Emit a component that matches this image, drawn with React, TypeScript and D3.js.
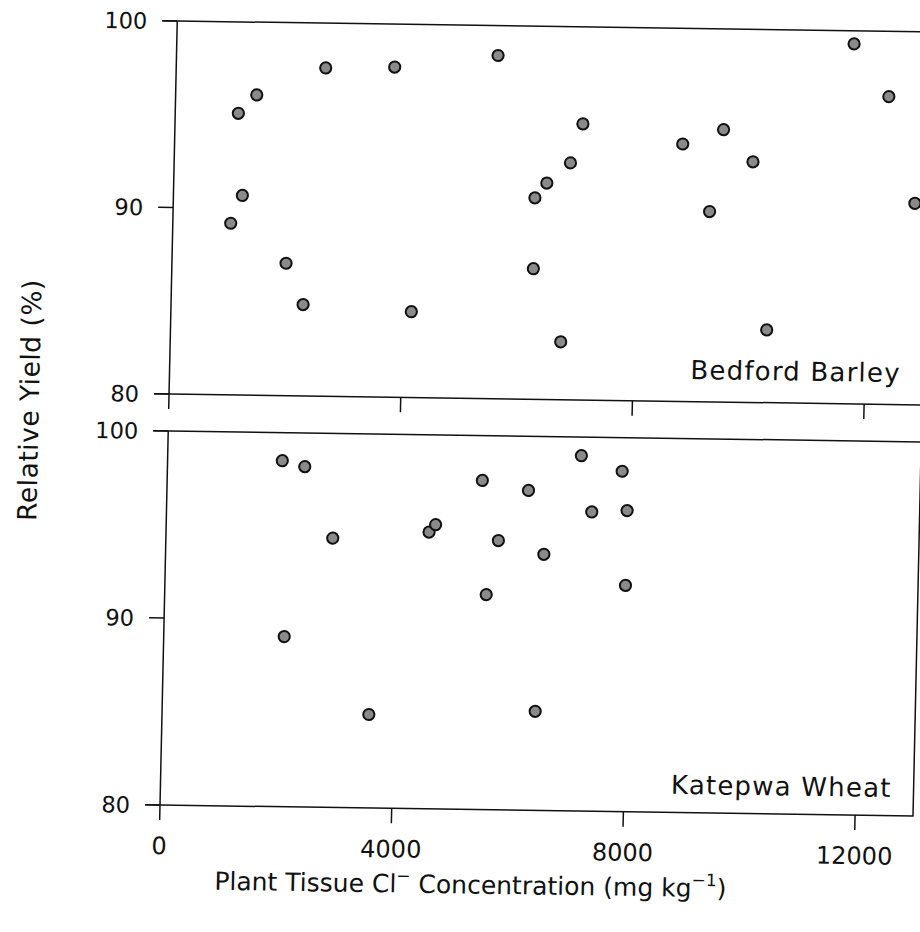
import React from 'react';
import * as d3 from 'd3';

const xTicks = [0, 4000, 8000, 12000];
const yTickLabels = [80, 90, 100];

const barleyX = [1000, 1090, 1190, 1400, 1970, 2280, 2580, 3770, 4150, 5550, 6240, 6240, 6440, 6740, 6840, 7040, 8770, 9260, 9470, 9990, 10290, 11690, 12310, 12800];
const barleyY = [89.2, 95.1, 90.7, 96.1, 87.1, 84.9, 97.6, 97.7, 84.6, 98.4, 90.8, 87.0, 91.6, 83.1, 92.7, 94.8, 93.8, 90.2, 94.6, 92.9, 83.9, 99.3, 96.5, 90.8];

const wheatX = [1980, 2370, 2880, 2080, 3570, 4540, 4650, 5440, 6240, 5740, 5550, 6530, 6440, 7140, 7850, 7340, 7950, 7950];
const wheatY = [98.5, 98.2, 94.4, 89.1, 85.0, 94.8, 95.2, 97.6, 97.1, 94.4, 91.5, 93.7, 85.3, 99.0, 98.2, 96.0, 96.1, 92.1];

const FONT = '"DejaVu Sans", sans-serif';

export default function App() {
  const W = 920, H = 932;
  const B = 0.0145, C = -0.022;
  const x = d3.scaleLinear().domain([0, 13000]).range([0, 753]);
  const yTop = d3.scaleLinear().domain([80, 100]).range([-411, -784]);
  const yBot = d3.scaleLinear().domain([80, 100]).range([0, -374]);
  const panels = [
    { name: 'Bedford Barley', xs: barleyX, ys: barleyY, y: yTop, labelOff: 22.6 },
    { name: 'Katepwa Wheat', xs: wheatX, ys: wheatY, y: yBot, labelOff: 18.6 },
  ];
  const stroke = '#111';
  const sw = 1.5;
  const right = x(13000);
  return (
    <svg width={W} height={H} style={{ position: 'absolute', left: 0, top: 0, background: '#fff' }}>
      <rect width={W} height={H} fill="#fff" />
      <g transform={`matrix(1,${B},${C},1,160,805)`}>
        {panels.map((p, pi) => {
          const yb = p.y(80);
          const yt = p.y(100);
          return (
            <g key={pi}>
              <path d={`M${-15},${yt}H${right}V${yb}H${-15}`} fill="none" stroke={stroke} strokeWidth={sw} />
              <path d={`M0,${yt}V${yb + 15}`} fill="none" stroke={stroke} strokeWidth={sw} />
              {yTickLabels.map((t) => (
                <g key={t}>
                  <path d={`M-15,${p.y(t)}H0`} stroke={stroke} strokeWidth={sw} />
                  <text x={-30} y={p.y(t)} dy="0.36em" textAnchor="end" fontFamily={FONT} fontSize={22.5} fill="#111">{t}</text>
                </g>
              ))}
              {xTicks.filter((t) => t > 0).map((t) => (
                <path key={t} d={`M${x(t)},${yb}V${yb + 15}`} stroke={stroke} strokeWidth={sw} />
              ))}
              {p.xs.map((xv, i) => (
                <circle key={i} cx={x(xv)} cy={p.y(p.ys[i])} r={5.6} fill="#8a8a8a" stroke="#111" strokeWidth={2} />
              ))}
              <text x={731} y={yb - p.labelOff} textAnchor="end" fontFamily={FONT} fontSize={26} letterSpacing={1.2} fill="#111">{p.name}</text>
            </g>
          );
        })}
        {xTicks.map((t) => (
          <text key={t} x={x(t)} y={49} textAnchor="middle" fontFamily={FONT} fontSize={24} fill="#111">{t}</text>
        ))}
        <text x={312} y={84} textAnchor="middle" fontFamily={FONT} fontSize={25} fill="#111">
          Plant Tissue Cl
          <tspan dy={-11} fontSize={17}>−</tspan>
          <tspan dy={11}>{'\u00a0Concentration (mg kg'}</tspan>
          <tspan dy={-11} fontSize={17}>−1</tspan>
          <tspan dy={11}>)</tspan>
        </text>
        <text transform={`translate(-130,-403) rotate(-90)`} textAnchor="middle" fontFamily={FONT} fontSize={26.5} letterSpacing={0.5} fill="#111">Relative Yield (%)</text>
      </g>
    </svg>
  );
}
